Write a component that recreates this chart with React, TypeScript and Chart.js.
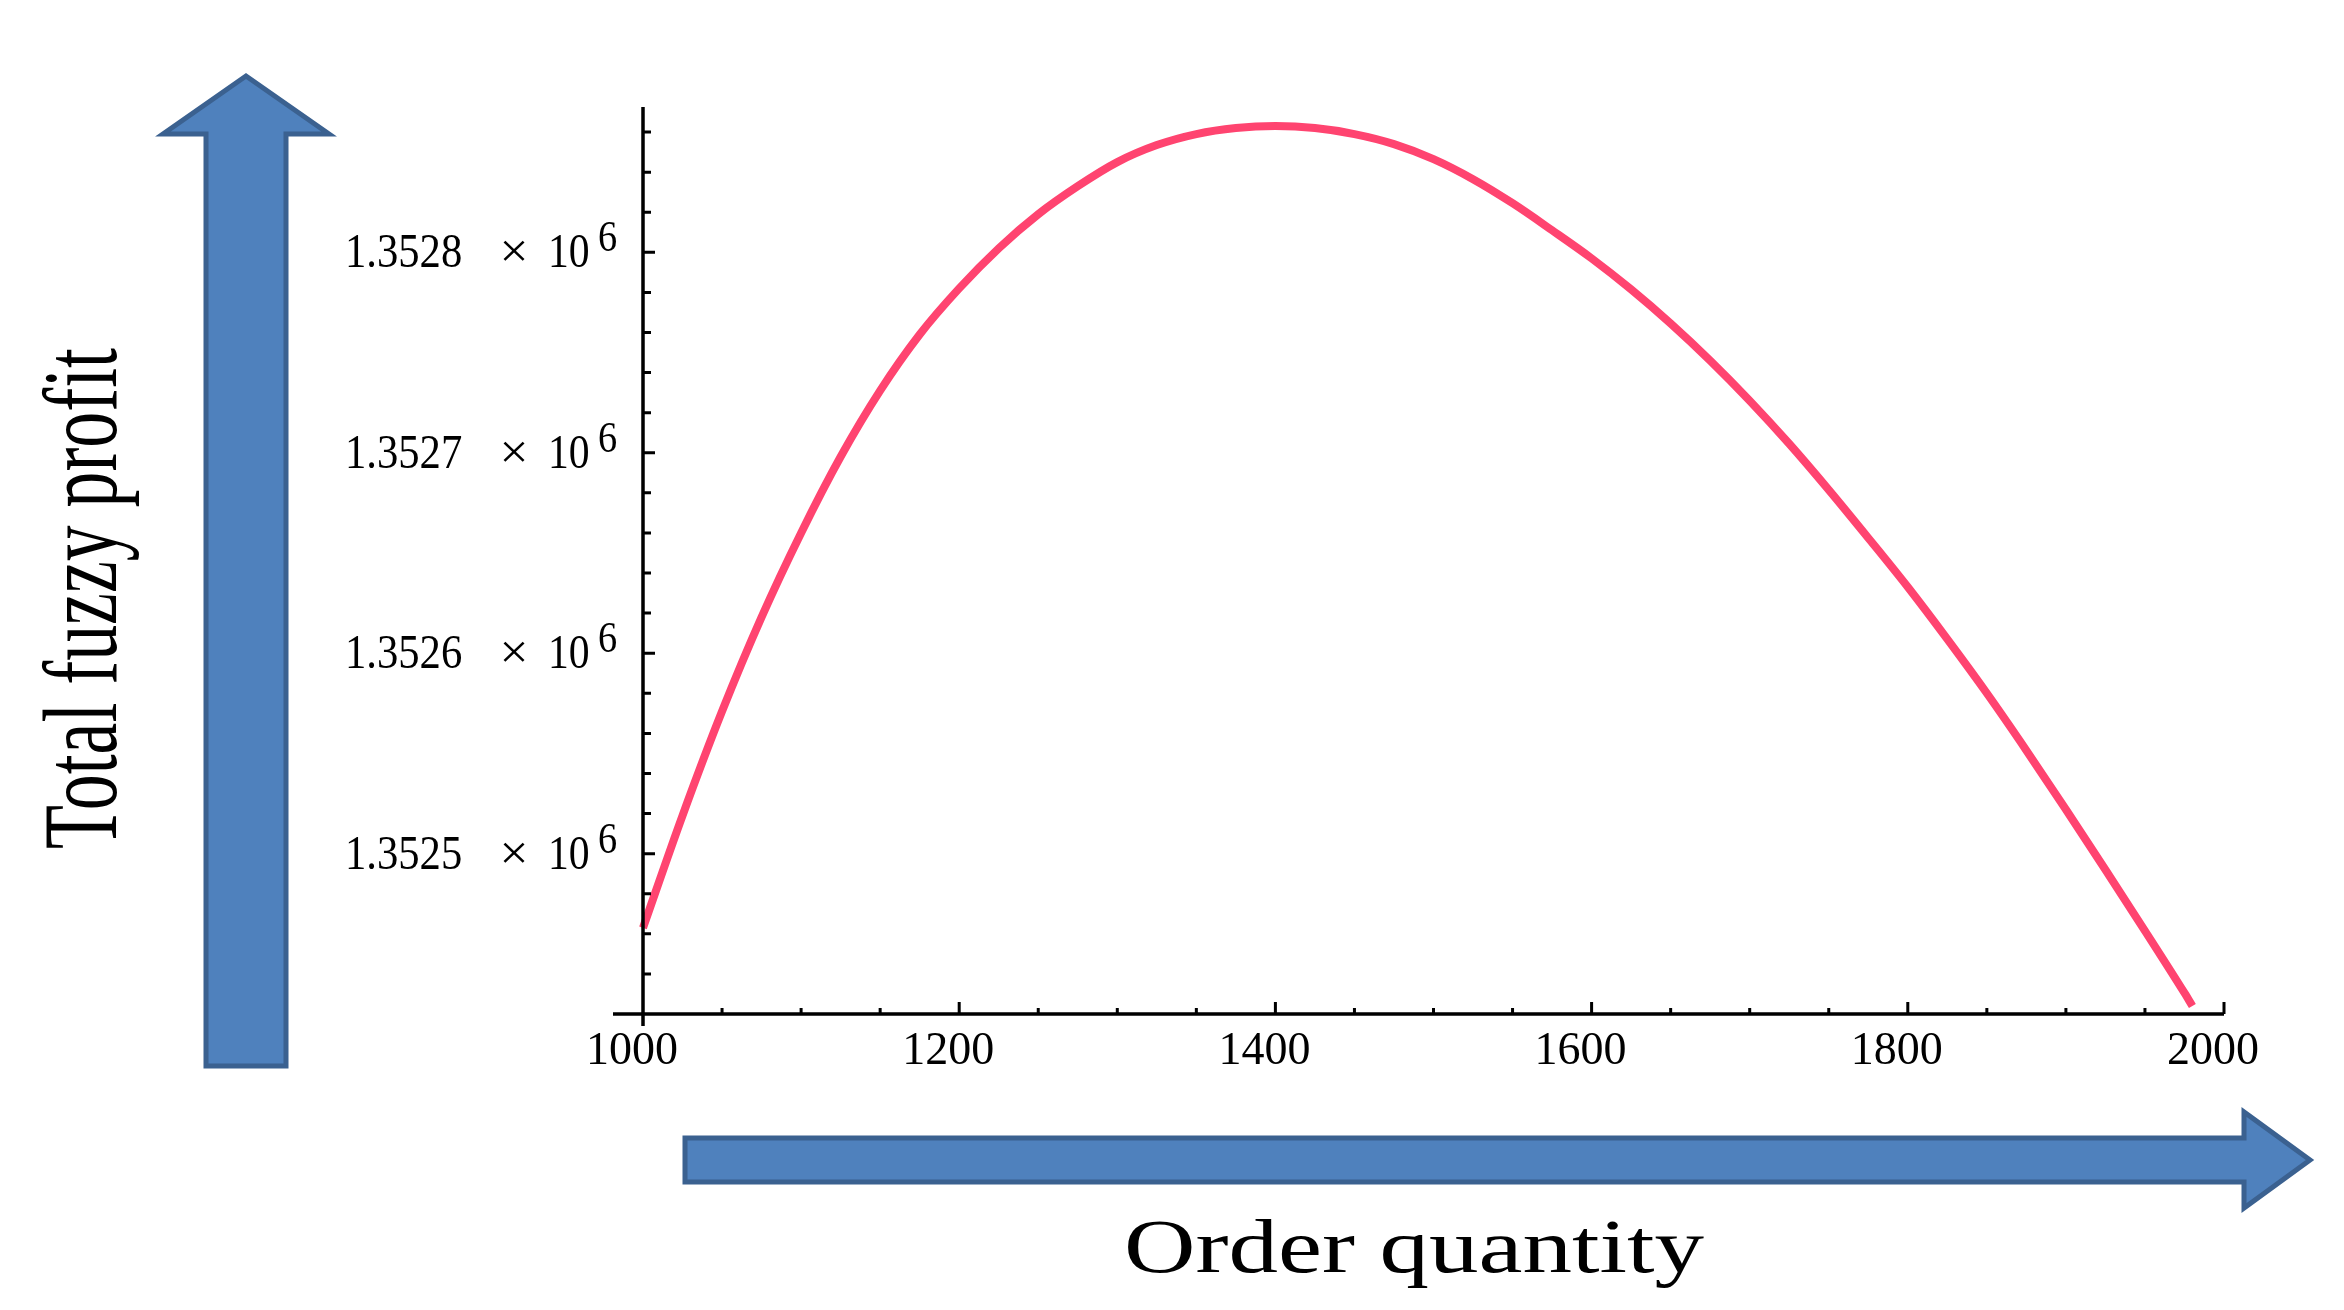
import React, { useEffect, useRef } from 'react';
import { Chart, registerables } from 'chart.js';

Chart.register(...registerables);

// ---- data ----
const orderQuantity = [
  1000, 1025, 1050, 1075, 1100, 1125, 1150, 1175, 1200, 1225, 1250, 1275, 1300, 1325, 1350, 1375,
  1400, 1425, 1450, 1475, 1500, 1525, 1550, 1575, 1600, 1625, 1650, 1675, 1700, 1725, 1750, 1775,
  1800, 1825, 1850, 1875, 1900, 1925, 1950, 1975, 1980,
];
const totalFuzzyProfit = [
  1352463, 1352519, 1352571, 1352618, 1352660, 1352698, 1352731, 1352759, 1352782, 1352802, 1352819, 1352833,
  1352845, 1352853.5, 1352859, 1352862, 1352863, 1352862, 1352859, 1352854, 1352846.5, 1352836.5, 1352824.5, 1352811,
  1352797, 1352781.5, 1352764.5, 1352746, 1352726, 1352704.5, 1352681.5, 1352657.5, 1352633, 1352607, 1352580, 1352551.5,
  1352522, 1352492, 1352461.5, 1352430.5, 1352424,
];
const xTickValues = [1000, 1200, 1400, 1600, 1800, 2000];
const xTickLabels = ['1000', '1200', '1400', '1600', '1800', '2000'];
const yTickValues = [1352500, 1352600, 1352700, 1352800];
const yTickMantissas = ['1.3525', '1.3526', '1.3527', '1.3528'];
const yTickExponent = '6';
const xMinorStep = 50;
const yMinorStep = 20;
const xRange = [1000, 2000];
const yRange = [1352420, 1352872.5];
const xAxisTitle = 'Order quantity';
const yAxisTitle = 'Total fuzzy profit';

const SERIF = '"Liberation Serif", "Times New Roman", serif';
const ARROW_FILL = '#4F81BD';
const ARROW_EDGE = '#3B6190';
const CURVE_COLOR = '#FF4470';

function drawScaledText(
  ctx: CanvasRenderingContext2D,
  text: string,
  x: number,
  y: number,
  size: number,
  sx: number,
  align: CanvasTextAlign = 'left'
) {
  ctx.save();
  ctx.font = `${size}px ${SERIF}`;
  ctx.textAlign = align;
  ctx.textBaseline = 'alphabetic';
  ctx.fillStyle = '#000';
  ctx.translate(x, y);
  ctx.scale(sx, 1);
  ctx.fillText(text, 0, 0);
  ctx.restore();
}

function drawArrow(ctx: CanvasRenderingContext2D, pts: number[][]) {
  ctx.save();
  ctx.beginPath();
  pts.forEach(([px, py], i) => (i ? ctx.lineTo(px, py) : ctx.moveTo(px, py)));
  ctx.closePath();
  ctx.fillStyle = ARROW_FILL;
  ctx.fill();
  ctx.lineJoin = 'miter';
  ctx.lineWidth = 5;
  ctx.strokeStyle = ARROW_EDGE;
  ctx.stroke();
  ctx.restore();
}

const decorPlugin = {
  id: 'decor',
  beforeDraw(chart: any) {
    const ctx: CanvasRenderingContext2D = chart.ctx;
    // vertical arrow
    drawArrow(ctx, [
      [206, 1066], [206, 134], [163, 134], [246, 76], [329, 134], [286, 134], [286, 1066],
    ]);
    // horizontal arrow
    drawArrow(ctx, [
      [685, 1138], [2244, 1138], [2244, 1112], [2310, 1160], [2244, 1208], [2244, 1182], [685, 1182],
    ]);
    // x title
    ctx.save();
    ctx.font = `76px ${SERIF}`;
    const wx = ctx.measureText(xAxisTitle).width;
    ctx.restore();
    drawScaledText(ctx, xAxisTitle, 1124, 1272, 76, 580 / wx);
    // y title (rotated)
    ctx.save();
    ctx.font = `106px ${SERIF}`;
    const wy = ctx.measureText(yAxisTitle).width;
    ctx.fillStyle = '#000';
    ctx.textAlign = 'left';
    ctx.textBaseline = 'alphabetic';
    ctx.translate(116, 849);
    ctx.rotate(-Math.PI / 2);
    ctx.scale(501 / wy, 1);
    ctx.fillText(yAxisTitle, 0, 0);
    ctx.restore();
  },
  afterDatasetsDraw(chart: any) {
    const ctx: CanvasRenderingContext2D = chart.ctx;
    const xs = chart.scales.x;
    const ys = chart.scales.y;
    const ax = xs.getPixelForValue(xRange[0]);
    const ay = ys.getPixelForValue(yRange[0]);
    const xEnd = xs.getPixelForValue(xRange[1]);
    const yTop = ys.getPixelForValue(yRange[1]);
    ctx.save();
    ctx.strokeStyle = '#000';
    ctx.lineCap = 'butt';
    // axes
    ctx.lineWidth = 3.5;
    ctx.beginPath();
    ctx.moveTo(ax - 30, ay);
    ctx.lineTo(xEnd, ay);
    ctx.moveTo(ax, ay + 12);
    ctx.lineTo(ax, yTop);
    ctx.stroke();
    // x ticks
    ctx.lineWidth = 3;
    ctx.beginPath();
    for (let v = xRange[0] + xMinorStep; v <= xRange[1] + 0.001; v += xMinorStep) {
      const px = xs.getPixelForValue(v);
      const major = xTickValues.includes(v);
      ctx.moveTo(px, ay);
      ctx.lineTo(px, ay - (major ? 12 : 6));
    }
    // y ticks
    const yStart = Math.ceil(yRange[0] / yMinorStep) * yMinorStep;
    for (let v = yStart; v <= yRange[1]; v += yMinorStep) {
      if (v === yRange[0]) continue;
      const py = ys.getPixelForValue(v);
      const major = yTickValues.includes(v);
      ctx.moveTo(ax, py);
      ctx.lineTo(ax + (major ? 12 : 8), py);
    }
    ctx.stroke();
    ctx.restore();
    // y tick labels: mantissa  × 10^6
    yTickValues.forEach((v, i) => {
      const py = ys.getPixelForValue(v);
      drawScaledText(ctx, yTickMantissas[i], ax - 298, py + 15, 49, 0.87);
      drawScaledText(ctx, '\u00D7', ax - 129, py + 15, 49, 1.05, 'center');
      drawScaledText(ctx, '10', ax - 95, py + 15, 49, 0.85);
      drawScaledText(ctx, yTickExponent, ax - 45, py - 1, 44, 0.87);
    });
  },
};

export default function App() {
  const canvasRef = useRef<HTMLCanvasElement | null>(null);

  useEffect(() => {
    document.body.style.margin = '0';
    document.body.style.overflow = 'hidden';
    const canvas = canvasRef.current;
    if (!canvas) return;
    const chart = new Chart(canvas, {
      type: 'line',
      data: {
        datasets: [
          {
            label: yAxisTitle,
            data: orderQuantity.map((q, i) => ({ x: q, y: totalFuzzyProfit[i] })),
            borderColor: CURVE_COLOR,
            borderWidth: 8,
            pointRadius: 0,
            cubicInterpolationMode: 'monotone',
            clip: false,
          } as any,
        ],
      },
      options: {
        animation: false,
        responsive: false,
        devicePixelRatio: 1,
        events: [],
        layout: { padding: { top: 107, right: 120, bottom: 0, left: 0 } },
        plugins: { legend: { display: false }, tooltip: { enabled: false }, title: { display: false } },
        scales: {
          x: {
            type: 'linear',
            min: xRange[0],
            max: xRange[1],
            grid: { display: false, drawTicks: false },
            border: { display: false },
            afterBuildTicks: (s: any) => {
              s.ticks = xTickValues.map((v) => ({ value: v }));
            },
            afterFit: (s: any) => {
              s.height = 1310 - 1014;
            },
            ticks: {
              autoSkip: false,
              maxRotation: 0,
              padding: 10,
              labelOffset: -11,
              color: '#000',
              font: { family: SERIF, size: 46 },
              callback: (v: any) => {
                const i = xTickValues.indexOf(Number(v));
                return i >= 0 ? xTickLabels[i] : String(v);
              },
            },
          },
          y: {
            type: 'linear',
            min: yRange[0],
            max: yRange[1],
            grid: { display: false, drawTicks: false },
            border: { display: false },
            ticks: { display: false },
            afterFit: (s: any) => {
              s.width = 643;
            },
          },
        },
      },
      plugins: [decorPlugin],
    });
    return () => chart.destroy();
  }, []);

  return (
    <div style={{ width: 2344, height: 1310, background: '#fff' }}>
      <canvas ref={canvasRef} width={2344} height={1310} style={{ display: 'block', width: 2344, height: 1310 }} />
    </div>
  );
}
